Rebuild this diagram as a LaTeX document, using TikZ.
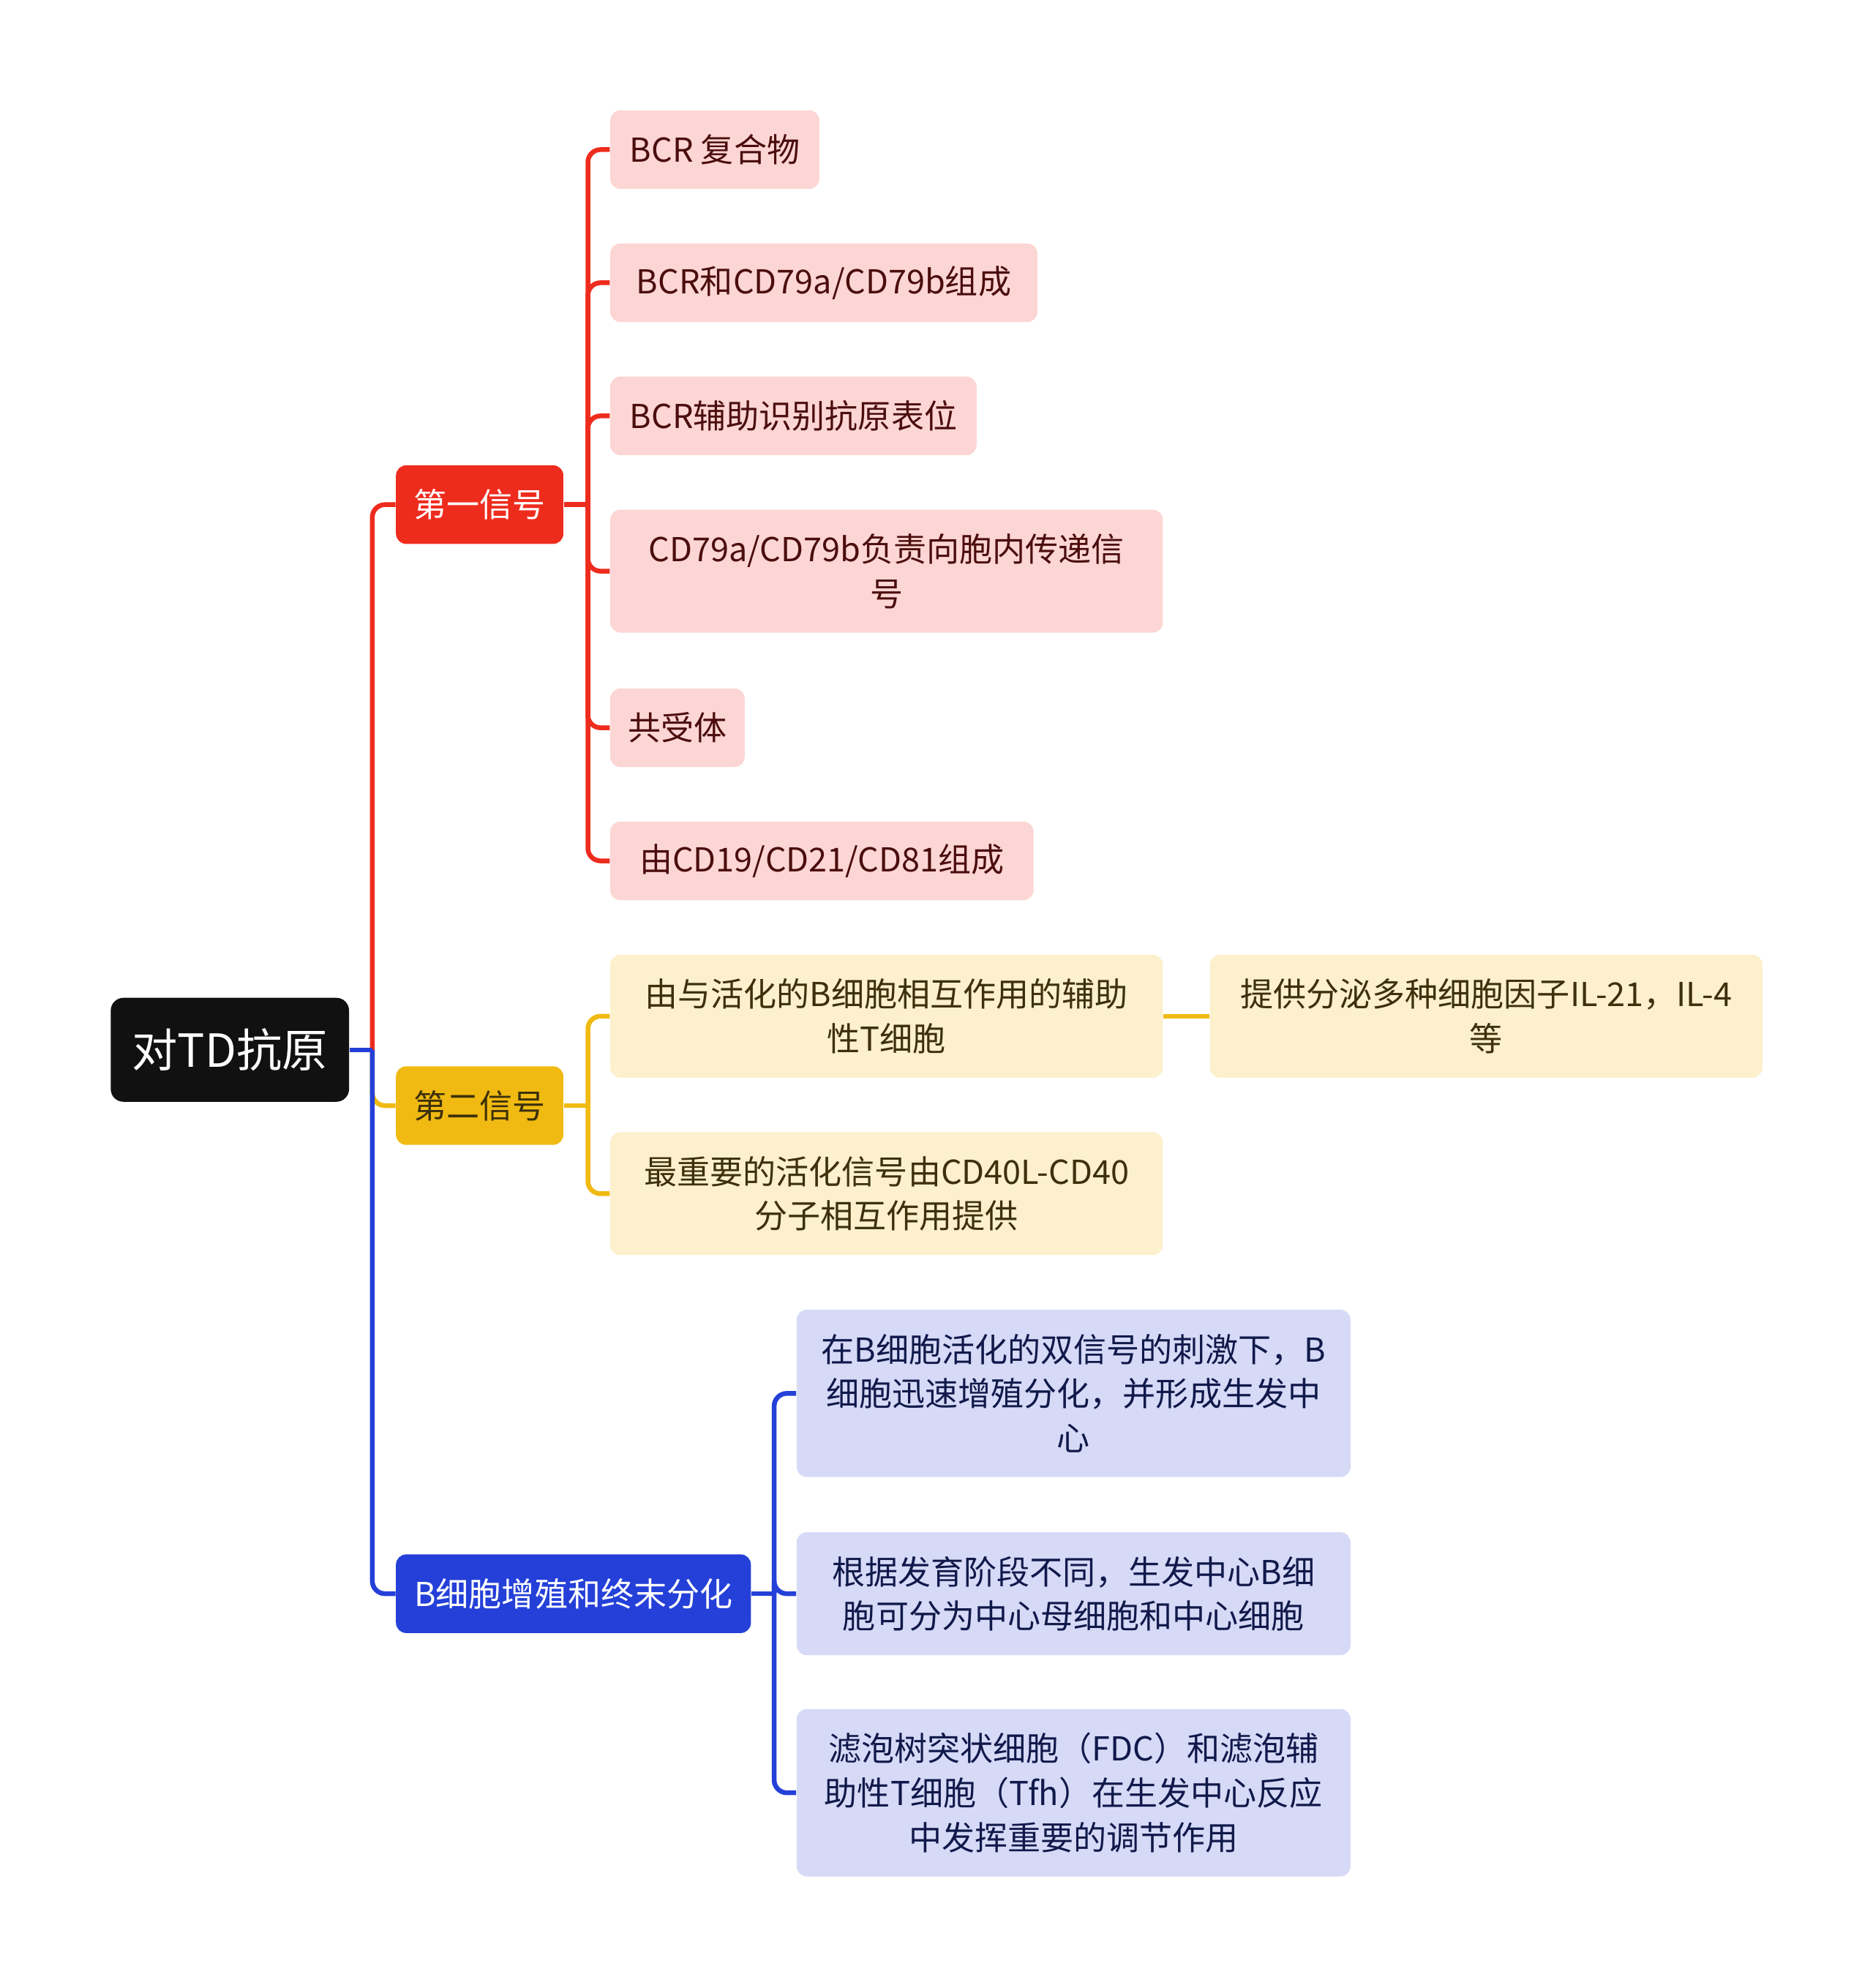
\documentclass[tikz,border=0pt]{standalone}
\usepackage{fontspec}
\setmainfont{Noto Sans CJK SC}
\usepackage{tikz}
\usetikzlibrary{positioning,calc}

\definecolor{rootblk}{HTML}{111111}
\definecolor{redmain}{HTML}{EE2C1E}
\definecolor{redlight}{HTML}{FCD6D4}
\definecolor{redtext}{HTML}{4B0D0D}
\definecolor{yelmain}{HTML}{F0BA12}
\definecolor{yellight}{HTML}{FCF0CD}
\definecolor{yeltext}{HTML}{3D300B}
\definecolor{blumain}{HTML}{2440D8}
\definecolor{blulight}{HTML}{D6DAF7}
\definecolor{blutext}{HTML}{10194A}

\begin{document}
\begin{tikzpicture}[
    x=0.02cm, y=-0.02cm,
    box/.style={rounded corners=0.16cm, inner xsep=0.28cm, inner ysep=0pt, minimum height=1.24cm, anchor=west, align=center, font=\fontsize{14.8}{19.9}\selectfont},
    rootbox/.style={box, fill=rootblk, text=white, rounded corners=0.2cm, minimum width=3.76cm, minimum height=1.64cm, font=\fontsize{20.5}{24}\selectfont},
    topbox/.style={box, minimum width=2.64cm},
    redbox/.style={box, fill=redlight, text=redtext},
    yelbox/.style={box, fill=yellight, text=yeltext, minimum width=8.72cm, minimum height=1.94cm},
    blubox/.style={box, fill=blulight, text=blutext, minimum width=8.74cm, minimum height=1.94cm},
    ln/.style={line width=0.075cm, rounded corners=0.2cm},
    redln/.style={ln, draw=redmain},
    yelln/.style={ln, draw=yelmain},
    bluln/.style={ln, draw=blumain}
]
\useasboundingbox (0,0) rectangle (1477,1568);

\node[rootbox] (root) at (87,828) {对TD抗原};

\node[topbox, fill=redmain, text=white] (sig1) at (312,398) {第一信号};
\node[topbox, fill=yelmain, text=yeltext] (sig2) at (312,872) {第二信号};
\node[topbox, fill=blumain, text=white, minimum width=5.6cm] (prol) at (312,1257) {B细胞增殖和终末分化};

\node[redbox, minimum width=3.3cm] (bcr) at (481,118) {BCR 复合物};
\node[redbox, minimum width=6.74cm] (cd79) at (481,223) {BCR和CD79a/CD79b组成};
\node[redbox, minimum width=5.78cm] (epit) at (481,328) {BCR辅助识别抗原表位};
\node[redbox, minimum width=8.72cm, minimum height=1.94cm] (sigtr) at (481,450.5) {CD79a/CD79b负责向胞内传递信\\号};
\node[redbox, minimum width=2.12cm] (corec) at (481,574) {共受体};
\node[redbox, minimum width=6.68cm] (cd19) at (481,679) {由CD19/CD21/CD81组成};

\node[yelbox] (thelp) at (481,801.5) {由与活化的B细胞相互作用的辅助\\性T细胞};
\node[yelbox] (cyto) at (954,801.5) {提供分泌多种细胞因子IL-21，IL-4\\等};
\node[yelbox] (cd40) at (481,941.5) {最重要的活化信号由CD40L-CD40\\分子相互作用提供};

\node[blubox, minimum height=2.64cm] (gc) at (628,1099) {在B细胞活化的双信号的刺激下，B\\细胞迅速增殖分化，并形成生发中\\心};
\node[blubox] (stage) at (628,1257) {根据发育阶段不同，生发中心B细\\胞可分为中心母细胞和中心细胞};
\node[blubox, minimum height=2.64cm] (fdc) at (628,1414) {滤泡树突状细胞（FDC）和滤泡辅\\助性T细胞（Tfh）在生发中心反应\\中发挥重要的调节作用};

\coordinate (rootj) at ([xshift=0.36cm]root.east);
\coordinate (sig1j) at ([xshift=0.38cm]sig1.east);
\coordinate (sig2j) at ([xshift=0.38cm]sig2.east);
\coordinate (prolj) at ([xshift=0.36cm]prol.east);

\draw[redln] (rootj) |- (sig1.west);
\draw[yelln] (rootj) |- (sig2.west);
\draw[bluln] (rootj) |- (prol.west);
\draw[bluln] (root.east) -- (rootj);

\draw[redln] (sig1.east) -- (sig1j);
\foreach \c in {bcr,cd79,epit,sigtr,corec,cd19}
  \draw[redln] (sig1j) |- (\c.west);

\draw[yelln] (sig2.east) -- (sig2j);
\foreach \c in {thelp,cd40}
  \draw[yelln] (sig2j) |- (\c.west);
\draw[yelln] (thelp.east) -- (cyto.west);

\draw[bluln] (prol.east) -- (prolj);
\foreach \c in {gc,stage,fdc}
  \draw[bluln] (prolj) |- (\c.west);
\end{tikzpicture}
\end{document}
